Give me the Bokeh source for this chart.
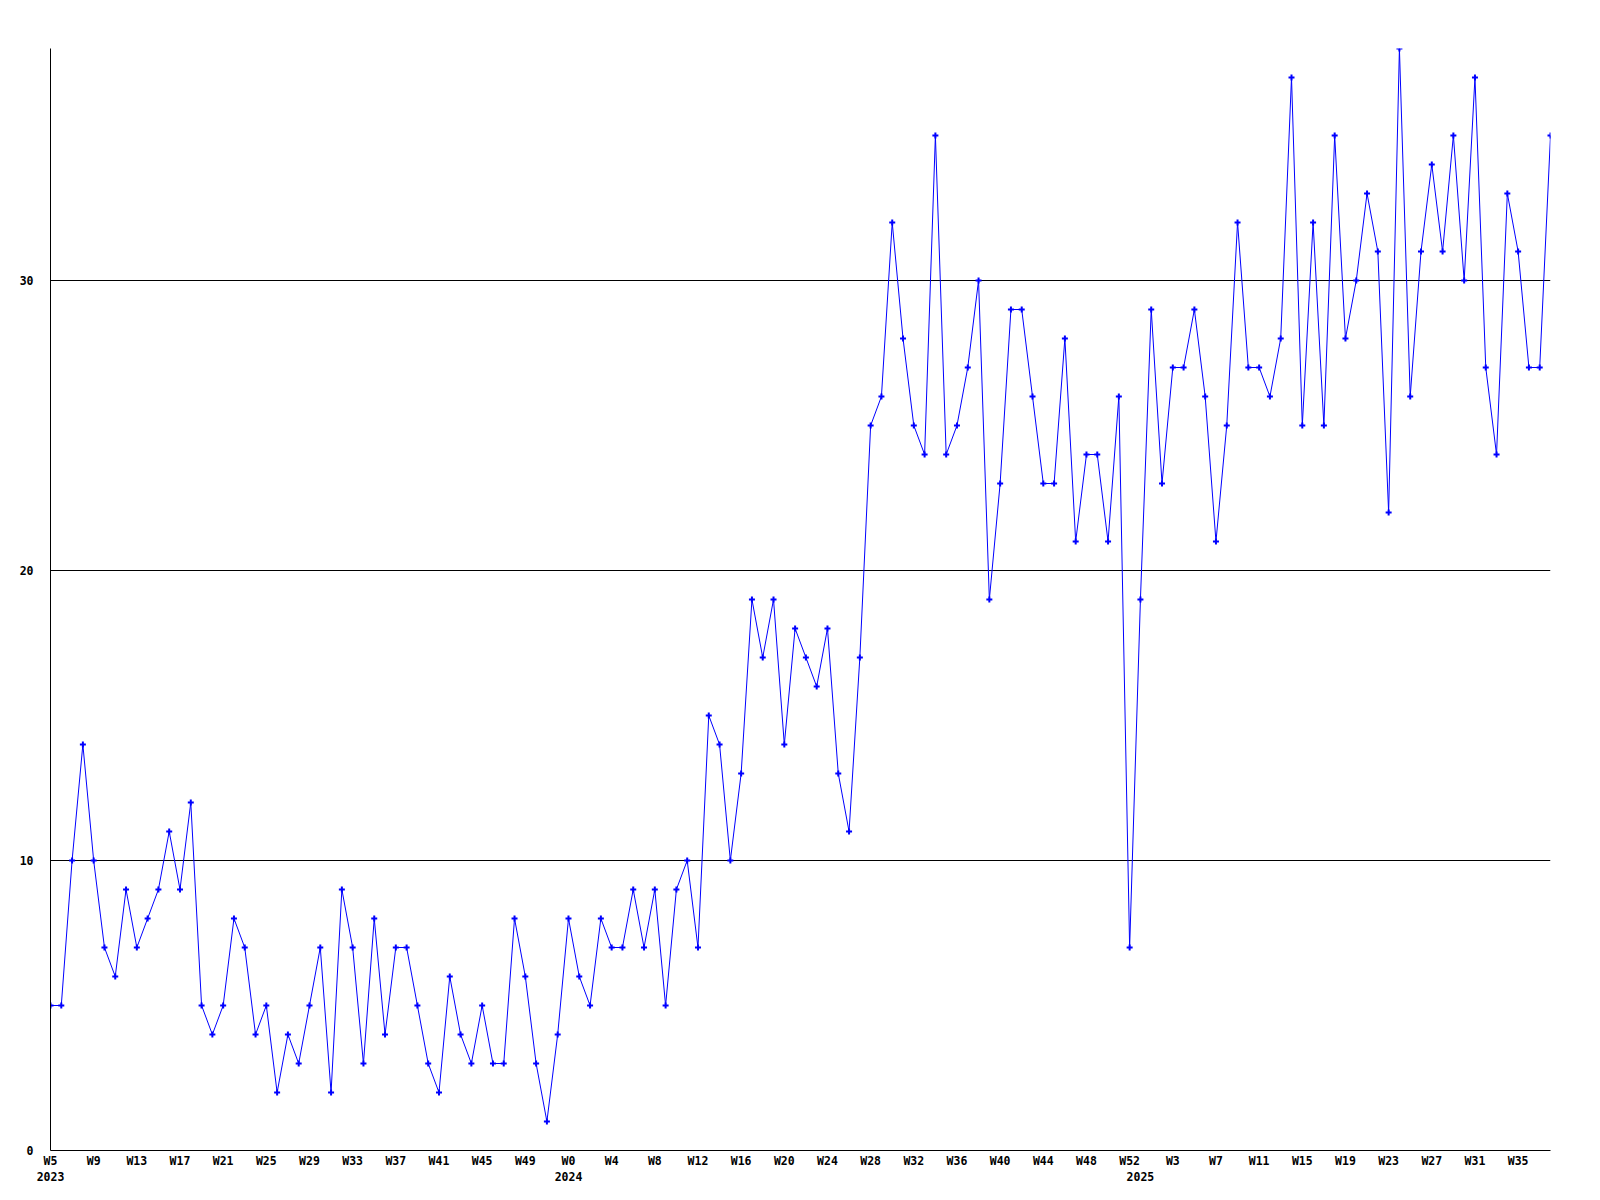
from bokeh.plotting import figure
from bokeh.models import Range1d, LinearAxis, FixedTicker, Grid
from bokeh.embed import file_html
from bokeh.resources import INLINE

# Weekly counts, 2023 W5 .. 2025 W38 (one value per week)
values_2023 = [5, 5, 10, 14, 10, 7, 6, 9, 7, 8, 9, 11, 9, 12, 5, 4, 5, 8, 7, 4,
               5, 2, 4, 3, 5, 7, 2, 9, 7, 3, 8, 4, 7, 7, 5, 3, 2, 6, 4, 3,
               5, 3, 3, 8, 6, 3, 1, 4]
values_2024 = [8, 6, 5, 8, 7, 7, 9, 7, 9, 5, 9, 10, 7, 15, 14, 10, 13, 19, 17, 19,
               14, 18, 17, 16, 18, 13, 11, 17, 25, 26, 32, 28, 25, 24, 35, 24, 25, 27, 30, 19,
               23, 29, 29, 26, 23, 23, 28, 21, 24, 24, 21, 26, 7]
values_2025 = [19, 29, 23, 27, 27, 29, 26, 21, 25, 32, 27, 27, 26, 28, 37, 25, 32, 25, 35, 28,
               30, 33, 31, 22, 38, 26, 31, 34, 31, 35, 30, 37, 27, 24, 33, 31, 27, 27, 35]

values = values_2023 + values_2024 + values_2025
idx = list(range(len(values)))

# x-axis tick labels (every 4th week) and year labels
week_ticks = [0, 4, 8, 12, 16, 20, 24, 28, 32, 36, 40, 44, 48, 52, 56, 60, 64, 68,
              72, 76, 80, 84, 88, 92, 96, 100, 104, 108, 112, 116, 120, 124, 128, 132, 136]
week_labels = ["W5", "W9", "W13", "W17", "W21", "W25", "W29", "W33", "W37", "W41",
               "W45", "W49", "W0", "W4", "W8", "W12", "W16", "W20", "W24", "W28",
               "W32", "W36", "W40", "W44", "W48", "W52", "W3", "W7", "W11", "W15",
               "W19", "W23", "W27", "W31", "W35"]
year_ticks = [0, 48, 101]
year_labels = ["2023", "2024", "2025"]
y_ticks = [0, 10, 20, 30]
grid_ticks = [10, 20, 30]

FONT = "DejaVu Sans Mono"
FSIZE = "11.5px"

p = figure(width=1592, height=1192,
           x_range=Range1d(0, len(values) - 1), y_range=Range1d(0, 38),
           x_axis_type=None, y_axis_type=None,
           output_backend="svg", toolbar_location=None,
           min_border_left=50, min_border_right=42,
           min_border_top=48, min_border_bottom=42)
p.outline_line_color = None
p.background_fill_color = "white"
p.border_fill_color = "white"

p.add_layout(Grid(dimension=1, ticker=FixedTicker(ticks=grid_ticks),
                  grid_line_color="black", grid_line_width=1))

yaxis = LinearAxis(ticker=FixedTicker(ticks=y_ticks),
                   major_tick_in=0, major_tick_out=0,
                   minor_tick_line_color=None, major_tick_line_color=None,
                   axis_line_color="black", axis_line_width=1,
                   major_label_standoff=17,
                   major_label_text_font=FONT, major_label_text_font_style="bold",
                   major_label_text_font_size=FSIZE, major_label_text_color="black")
p.add_layout(yaxis, "left")

xaxis = LinearAxis(ticker=FixedTicker(ticks=week_ticks),
                   major_label_overrides={t: l for t, l in zip(week_ticks, week_labels)},
                   major_tick_in=0, major_tick_out=0,
                   minor_tick_line_color=None, major_tick_line_color=None,
                   axis_line_color="black", axis_line_width=1,
                   major_label_standoff=3,
                   major_label_text_font=FONT, major_label_text_font_style="bold",
                   major_label_text_font_size=FSIZE, major_label_text_color="black")
p.add_layout(xaxis, "below")

yearaxis = LinearAxis(ticker=FixedTicker(ticks=year_ticks),
                      major_label_overrides={t: l for t, l in zip(year_ticks, year_labels)},
                      major_tick_in=0, major_tick_out=0,
                      minor_tick_line_color=None, major_tick_line_color=None,
                      axis_line_color=None,
                      major_label_standoff=1,
                      major_label_text_font=FONT, major_label_text_font_style="bold",
                      major_label_text_font_size=FSIZE, major_label_text_color="black")
p.add_layout(yearaxis, "below")

p.line(idx, values, line_color="#0000ff", line_width=1)
p.scatter(idx, values, marker="cross", size=6, line_color="#0000ff", line_width=2)

open("out.html", "w").write(file_html(p, INLINE))
